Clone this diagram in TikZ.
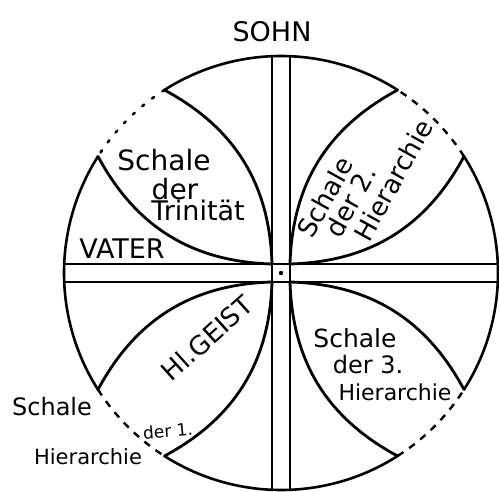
\documentclass[tikz,border=0pt]{standalone}
\usepackage{fontspec}
\setmainfont{DejaVu Sans}
\tikzset{
  rim/.style={line width=2.6pt},
  shell/.style={line width=2.8pt,line cap=round},
  gap/.style={line width=2.4pt,dash pattern=on 7pt off 7pt},
  dotgap/.style={line width=2.6pt,line cap=round,dash pattern=on 2.5pt off 10pt},
  bar/.style={line width=1.1pt},
  persona/.style={font=\fontsize{27}{29}\selectfont,inner sep=0pt},
  lbl/.style={font=\fontsize{26}{28}\selectfont,inner sep=0pt},
}
\begin{document}
\begin{tikzpicture}[x=1pt,y=1pt]
 \useasboundingbox (0,0) rectangle (499,491);
 \coordinate (m) at (281,218);
 %% corners of the cross
 \coordinate (tl) at (272,227); \coordinate (tr) at (290,227);
 \coordinate (bl) at (272,209); \coordinate (br) at (290,209);
 %% tips of the shells on the rim
 \foreach \n/\a in {tl1/147.5,tl2/122.5,tr1/57.5,tr2/32.5,br1/-32.5,br2/-57.5,bl1/-122.5,bl2/-147.5}{\coordinate (\n) at ([shift={(\a:217)}]m);}
 %% rim: solid between the shells, broken across them
 \foreach \s/\e in {57.5/122.5,147.5/212.5,237.5/302.5,327.5/392.5}{\draw[rim] ([shift={(\s:217)}]m) arc[start angle=\s,end angle=\e,radius=217];}
 \draw[dotgap] (tl2) arc[start angle=122.5,end angle=147.5,radius=217];
 \foreach \s/\e in {32.5/57.5,-57.5/-32.5,-147.5/-122.5}{\draw[gap] ([shift={(\s:217)}]m) arc[start angle=\s,end angle=\e,radius=217];}
 %% the cross
 \draw[bar] (272,434.8) -- (272,1.2);
 \draw[bar] (290,434.8) -- (290,1.2);
 \draw[bar] (64.2,227) -- (497.8,227);
 \draw[bar] (64.2,209) -- (497.8,209);
 \draw[line width=2.4pt] (tl) rectangle (br);
 \fill (m) circle (2.2);
 %% shells
 \foreach \p/\c in {tl1/tl,tr1/tr,br1/br,bl1/bl}{\draw[shell] (\p) to[bend right=30] (\c);}
 \foreach \p/\c in {tl2/tl,tr2/tr,br2/br,bl2/bl}{\draw[shell] (\p) to[bend left=30] (\c);}
 %% names
 \node[persona] (sohn) at (272,459) {SOHN};
 \node[persona] (vater) at (122,242) {VATER};
 \node[lbl,rotate=42] (geist) at (207,153) {Hl.GEIST};
 %% labels of the shells
 \node[lbl,font=\fontsize{28}{30}\selectfont] (trin1) at (164,331) {Schale};
 \node[lbl,font=\fontsize{28}{30}\selectfont] (trin2) at (175,302) {der};
 \node[lbl,font=\fontsize{27}{29}\selectfont] (trin3) at (198,281) {Trinität};
 \node[lbl,rotate=61] (zwei1) at (325,294) {Schale};
 \node[lbl,rotate=61] (zwei2) at (351,290) {der 2.};
 \node[lbl,rotate=61] (zwei3) at (393,311) {Hierarchie};
 \node[lbl,font=\fontsize{25}{27}\selectfont] (drei1) at (355,153) {Schale};
 \node[lbl,font=\fontsize{24}{26}\selectfont] (drei2) at (368,126) {der 3.};
 \node[lbl,font=\fontsize{22}{24}\selectfont] (drei3) at (395,99) {Hierarchie};
 \node[lbl,font=\fontsize{24}{26}\selectfont] (eins1) at (52,84) {Schale};
 \node[lbl,font=\fontsize{17}{19}\selectfont,rotate=5] (eins2) at (168,60) {der 1.};
 \node[lbl,font=\fontsize{21}{23}\selectfont] (eins3) at (88,34) {Hierarchie};
\end{tikzpicture}
\end{document}
